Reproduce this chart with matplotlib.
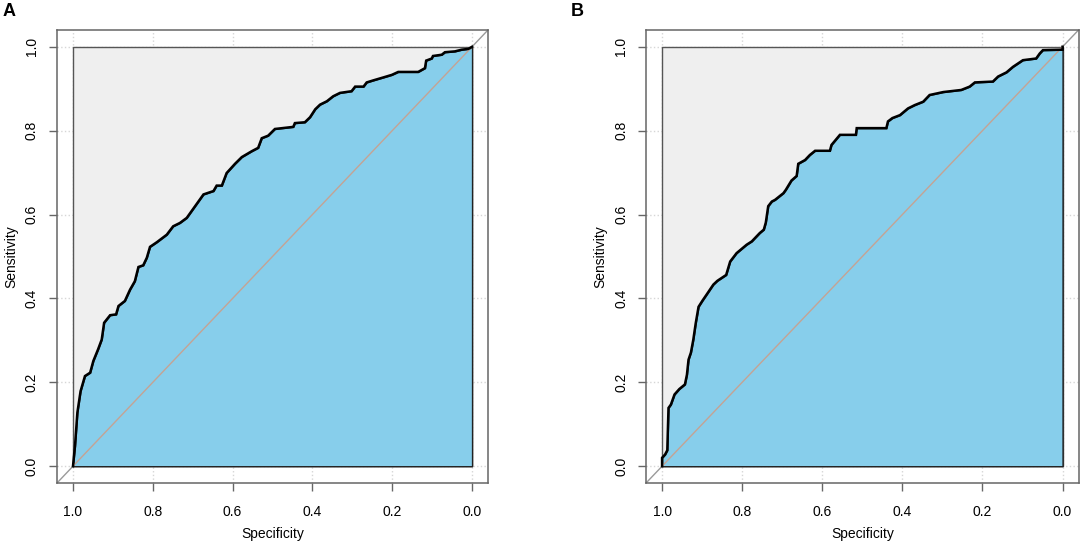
## two ROC panels, pROC style

import numpy as np
import matplotlib
matplotlib.use('Agg')
import matplotlib.pyplot as plt

FIGURE_SIZE = (10.84, 5.46)
DPI = 100
FONT = ['Liberation Sans', 'DejaVu Sans']

BG_COLOR = '#EFEFEF'
AUC_COLOR = '#87CEEB'
DIAG_COLOR = '#c4a394'
FRAME_COLOR = '#666666'

# panel A: specificity / sensitivity
spec_a = [1.0, 0.995, 0.989, 0.981, 0.970, 0.957, 0.949, 0.937, 0.928, 0.922, 0.907, 0.892, 0.886,
	0.870, 0.857, 0.845, 0.836, 0.824, 0.815, 0.807, 0.790, 0.765, 0.749, 0.732, 0.715, 0.694, 0.673,
	0.648, 0.640, 0.627, 0.615, 0.594, 0.577, 0.552, 0.536, 0.527, 0.511, 0.494, 0.448, 0.444, 0.419,
	0.406, 0.393, 0.381, 0.364, 0.348, 0.331, 0.302, 0.293, 0.272, 0.264, 0.247, 0.222, 0.201, 0.185,
	0.135, 0.118, 0.115, 0.101, 0.098, 0.076, 0.068, 0.043, 0.026, 0.009, 0.0]
sens_a = [0.0, 0.048, 0.128, 0.179, 0.215, 0.223, 0.251, 0.279, 0.302, 0.342, 0.360, 0.362, 0.382,
	0.394, 0.421, 0.441, 0.475, 0.479, 0.497, 0.523, 0.534, 0.552, 0.572, 0.580, 0.592, 0.620, 0.648,
	0.656, 0.669, 0.669, 0.699, 0.721, 0.737, 0.751, 0.759, 0.782, 0.788, 0.804, 0.809, 0.818, 0.820,
	0.832, 0.851, 0.862, 0.870, 0.882, 0.890, 0.894, 0.905, 0.905, 0.915, 0.920, 0.927, 0.933, 0.940,
	0.940, 0.949, 0.967, 0.972, 0.978, 0.981, 0.987, 0.989, 0.993, 0.995, 1.0]

# panel B
spec_b = [1.0, 1.0, 0.9925, 0.987, 0.984, 0.978, 0.969, 0.957, 0.943, 0.938, 0.934, 0.928, 0.922,
	0.916, 0.909, 0.899, 0.889, 0.872, 0.862, 0.840, 0.830, 0.814, 0.789, 0.776, 0.768, 0.756, 0.746,
	0.741, 0.735, 0.726, 0.718, 0.697, 0.691, 0.677, 0.664, 0.660, 0.643, 0.631, 0.618, 0.581, 0.577,
	0.556, 0.516, 0.514, 0.440, 0.436, 0.425, 0.406, 0.386, 0.369, 0.348, 0.332, 0.298, 0.253, 0.232,
	0.219, 0.174, 0.161, 0.140, 0.124, 0.099, 0.066, 0.057, 0.049, 0.0, 0.0]
sens_b = [0.0, 0.020, 0.028, 0.038, 0.139, 0.147, 0.171, 0.184, 0.195, 0.218, 0.254, 0.271, 0.302,
	0.341, 0.380, 0.395, 0.409, 0.433, 0.442, 0.456, 0.488, 0.508, 0.528, 0.536, 0.544, 0.556, 0.564,
	0.581, 0.620, 0.631, 0.635, 0.651, 0.659, 0.681, 0.692, 0.721, 0.730, 0.742, 0.752, 0.752, 0.766,
	0.790, 0.790, 0.806, 0.806, 0.822, 0.830, 0.837, 0.853, 0.861, 0.869, 0.885, 0.892, 0.897, 0.905,
	0.915, 0.917, 0.929, 0.939, 0.952, 0.968, 0.972, 0.984, 0.992, 0.993, 1.0]

tick_values = [0.0, 0.2, 0.4, 0.6, 0.8, 1.0]
tick_labels = ['0.0', '0.2', '0.4', '0.6', '0.8', '1.0']
panel_labels = ['A', 'B']

plt.rcParams['font.family'] = FONT


def _format_axes(ax):
	ax.set_xlim(1.04, -0.04)
	ax.set_ylim(-0.04, 1.04)
	ax.set_xticks(tick_values, tick_labels)
	ax.set_yticks(tick_values, tick_labels)
	for lab in ax.get_yticklabels():
		lab.set_rotation(90)
		lab.set_va('center')
	ax.tick_params(axis='both', direction='out', length=6, width=1, color=FRAME_COLOR, labelsize=10)
	ax.tick_params(axis='x', pad=9.5)
	ax.tick_params(axis='y', pad=7)
	for s in ax.spines.values():
		s.set_color(FRAME_COLOR)
		s.set_linewidth(1.1)
	# grid sits under the square, so it only shows in the margins
	ax.grid(True, linestyle=':', color='#d6d6d6', linewidth=1)
	ax.set_axisbelow(True)
	ax.set_xlabel('Specificity', fontsize=10, labelpad=6)
	ax.set_ylabel('Sensitivity', fontsize=10, labelpad=5)


def _draw_roc(ax, spec, sens):
	spec = np.asarray(spec)
	sens = np.asarray(sens)
	# identity line over the whole plot region
	ax.axline((1, 0), (0, 1), color='#9a9a9a', linewidth=1, zorder=1)
	# max auc square
	ax.fill_between([1, 0], [1, 1], 0, facecolor=BG_COLOR, edgecolor='#555555', linewidth=1, zorder=2)
	# auc polygon
	ax.fill_between(spec, sens, 0, facecolor=AUC_COLOR, edgecolor='#222222', linewidth=1, zorder=3)
	ax.plot([1, 0], [0, 1], color=DIAG_COLOR, linewidth=1, zorder=4)
	ax.plot(spec, sens, color='black', linewidth=1.8, zorder=5, solid_joinstyle='miter')


fig = plt.figure(figsize=FIGURE_SIZE, dpi=DPI)
ax_a = fig.add_axes([0.0526, 0.1154, 0.3976, 0.8297])
ax_b = fig.add_axes([0.5960, 0.1154, 0.3990, 0.8297])

for ax, spec, sens in [(ax_a, spec_a, sens_a), (ax_b, spec_b, sens_b)]:
	_draw_roc(ax, spec, sens)
	_format_axes(ax)

fig.text(0.0085, 0.979, panel_labels[0], fontsize=13, fontweight='bold', va='center', ha='center')
fig.text(0.5325, 0.979, panel_labels[1], fontsize=13, fontweight='bold', va='center', ha='center')

fig.savefig('out.png', dpi=DPI)
